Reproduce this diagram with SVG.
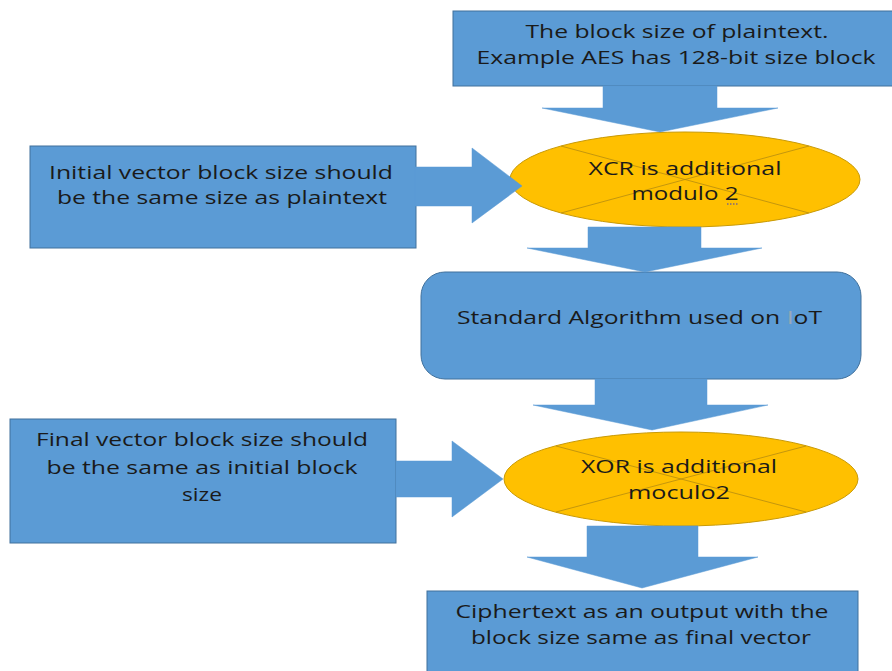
<svg xmlns="http://www.w3.org/2000/svg" width="892" height="671" viewBox="0 0 892 671">
<style>
.box{fill:#5b9bd5;stroke:#41719c;stroke-width:1}
.ell{fill:#ffc000;stroke:#c99a06;stroke-width:1}
.xl{stroke:#b58b10;stroke-width:0.8;fill:none}
.arr{fill:#5b9bd5;stroke:#5b9bd5;stroke-width:0.5}
text{font-family:"Open Sans","Liberation Sans",Arial,sans-serif;font-size:18px;fill:#1a1a1a;text-anchor:middle}
</style>
<rect width="892" height="671" fill="#ffffff"/>
<g id="plaintext">
<rect class="box" x="453" y="11" width="445" height="75"/>
<text x="677" y="38" textLength="303" lengthAdjust="spacingAndGlyphs">The block size of plaintext.</text>
<text x="676" y="64" textLength="399" lengthAdjust="spacingAndGlyphs">Example AES has 128-bit size block</text>
</g>
<g id="iv">
<rect class="box" x="30" y="146" width="386" height="102"/>
<text x="221" y="179" textLength="344" lengthAdjust="spacingAndGlyphs">Initial vector block size should</text>
<text x="222" y="204" textLength="330" lengthAdjust="spacingAndGlyphs">be the same size as plaintext</text>
</g>
<g id="xor1">
<ellipse class="ell" cx="685" cy="179.5" rx="175" ry="47.5"/>
<line class="xl" x1="561" y1="146" x2="809" y2="213"/>
<line class="xl" x1="561" y1="213" x2="809" y2="146"/>
<text x="685" y="175" textLength="193" lengthAdjust="spacingAndGlyphs">XCR is additional</text>
<text x="685" y="200" textLength="107" lengthAdjust="spacingAndGlyphs">modulo 2</text>
<line x1="727" y1="204" x2="739" y2="204" stroke="#3b3bc4" stroke-width="1" stroke-dasharray="1.5,1.5"/>
</g>
<g id="algorithm">
<rect class="box" x="421" y="272" width="440" height="107" rx="24" ry="24"/>
<text x="639.5" y="324" textLength="365" lengthAdjust="spacingAndGlyphs">Standard Algorithm used on <tspan fill="#9aa9b8">I</tspan>oT</text>
</g>
<g id="fv">
<rect class="box" x="10" y="419" width="386" height="124"/>
<text x="202" y="446" textLength="332" lengthAdjust="spacingAndGlyphs">Final vector block size should</text>
<text x="202" y="474" textLength="311" lengthAdjust="spacingAndGlyphs">be the same as initial block</text>
<text x="202" y="501" textLength="40" lengthAdjust="spacingAndGlyphs">size</text>
</g>
<g id="xor2">
<ellipse class="ell" cx="681" cy="479" rx="177" ry="47"/>
<line class="xl" x1="556" y1="446" x2="806" y2="512"/>
<line class="xl" x1="556" y1="512" x2="806" y2="446"/>
<text x="679" y="473" textLength="196" lengthAdjust="spacingAndGlyphs">XOR is additional</text>
<text x="679" y="499" textLength="102" lengthAdjust="spacingAndGlyphs">moculo2</text>
</g>
<g id="ciphertext">
<rect class="box" x="427" y="591" width="431" height="90"/>
<text x="642" y="618" textLength="373" lengthAdjust="spacingAndGlyphs">Ciphertext as an output with the</text>
<text x="641" y="644" textLength="340" lengthAdjust="spacingAndGlyphs">block size same as final vector</text>
</g>
<g id="connectors">
<polygon class="arr" points="603,86 717,86 717,108 778,108 660,132 542,108 603,108"/>
<polygon class="arr" points="588,227 701,227 701,248 762,248 645,272 527,248 588,248"/>
<polygon class="arr" points="595,379 707,379 707,405 768,405 652,430 533,405 595,405"/>
<polygon class="arr" points="587,526 698,526 698,557 758,557 642,588 527,557 587,557"/>
<polygon class="arr" points="415,167 472,167 472,148 522,186 472,223 472,206 415,206"/>
<polygon class="arr" points="396,461 452,461 452,441 503,479 452,517 452,497 396,497"/>
</g>
</svg>
